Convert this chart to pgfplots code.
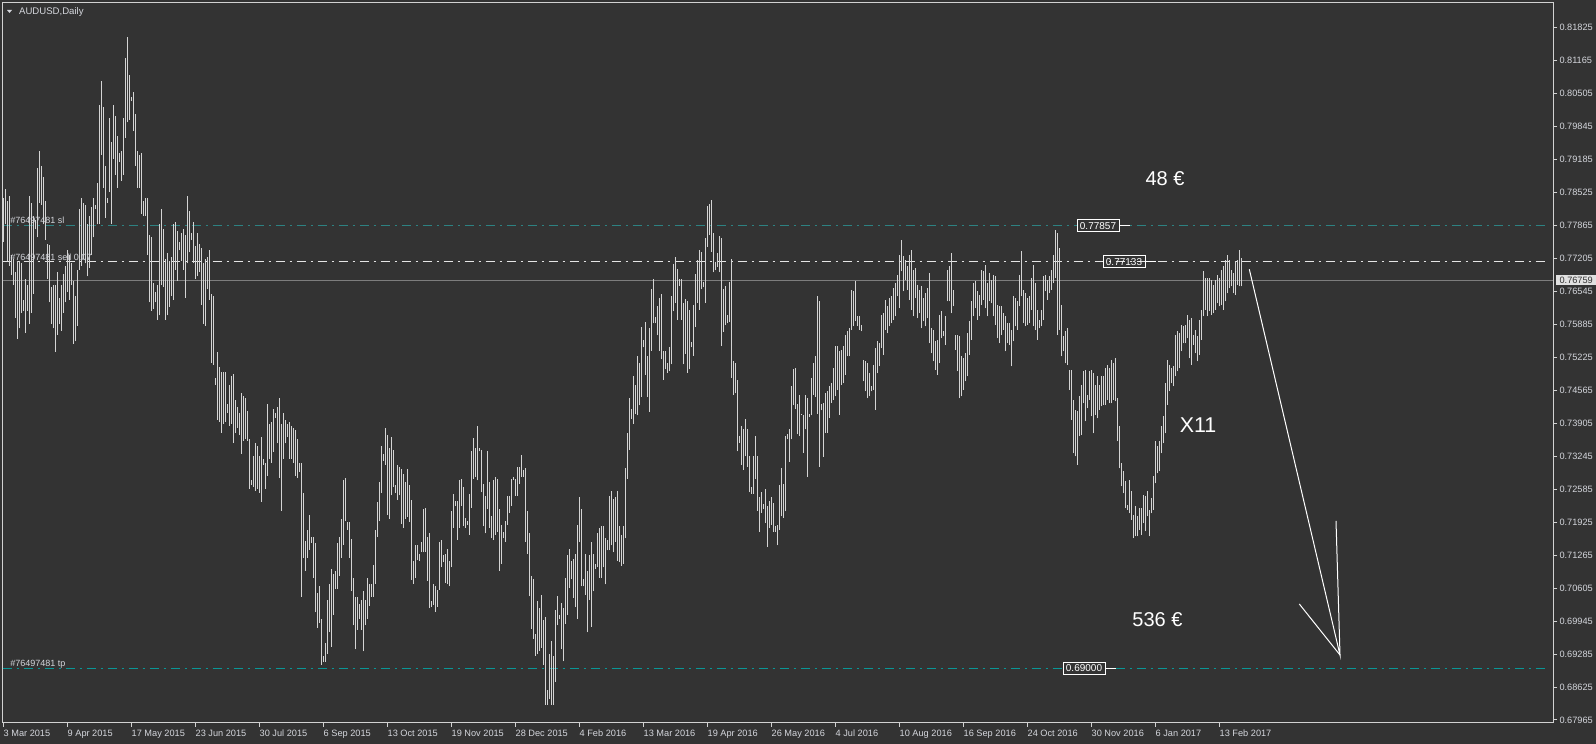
\documentclass[border=0pt]{standalone}
\usepackage{fontspec}
\setmainfont{Liberation Sans}
\usepackage{pgfplots}
\usepackage{pgfplotstable}
\pgfplotsset{compat=1.18}

\definecolor{bgc}{RGB}{51,51,51}
\definecolor{framec}{RGB}{210,210,210}
\definecolor{barc}{RGB}{212,212,212}
\definecolor{labc}{RGB}{212,214,220}
\definecolor{slc}{RGB}{45,130,130}
\definecolor{tpc}{RGB}{10,150,150}
\definecolor{bidc}{RGB}{125,125,125}

\newcommand\tkfont{\fontsize{4.6}{5}\selectfont}

% daily bars: x position (bar slot), high, low
\pgfplotstableread{
x h l
3 0.7841 0.7753
5 0.7859 0.7788
7 0.7835 0.7715
9 0.7845 0.7705
11 0.7727 0.7687
13 0.7719 0.7667
15 0.7693 0.7601
17 0.7715 0.7559
19 0.7715 0.7580
21 0.7711 0.7611
23 0.7637 0.7615
25 0.7679 0.7571
27 0.7667 0.7615
29 0.7845 0.7589
31 0.7831 0.7611
33 0.7805 0.7649
35 0.7797 0.7779
37 0.7901 0.7762
39 0.7935 0.7831
41 0.7905 0.7827
43 0.7883 0.7788
45 0.7835 0.7757
47 0.7749 0.7679
49 0.7747 0.7632
51 0.7663 0.7589
53 0.7667 0.7580
55 0.7667 0.7533
57 0.7693 0.7567
59 0.7641 0.7589
61 0.7667 0.7575
63 0.7689 0.7611
65 0.7705 0.7632
67 0.7736 0.7653
69 0.7727 0.7637
71 0.7710 0.7667
73 0.7675 0.7549
75 0.7645 0.7554
77 0.7697 0.7585
79 0.7819 0.7697
81 0.7840 0.7705
83 0.7831 0.7719
85 0.7827 0.7710
87 0.7788 0.7684
89 0.7805 0.7701
91 0.7823 0.7727
93 0.7840 0.7762
95 0.7827 0.7819
97 0.7871 0.7788
99 0.8027 0.7789
101 0.8075 0.7927
103 0.8023 0.7861
105 0.7905 0.7801
107 0.7841 0.7831
109 0.8001 0.7853
111 0.7953 0.7789
113 0.8027 0.7919
115 0.8005 0.7887
117 0.7965 0.7861
119 0.7931 0.7913
121 0.7935 0.7875
123 0.8001 0.7887
125 0.8122 0.7961
127 0.8163 0.7992
129 0.8087 0.7997
131 0.8044 0.8035
133 0.8053 0.7975
135 0.8009 0.7905
137 0.7935 0.7861
139 0.7927 0.7861
141 0.7931 0.7809
143 0.7835 0.7805
145 0.7840 0.7805
147 0.7840 0.7727
149 0.7767 0.7632
151 0.7762 0.7615
153 0.7671 0.7619
155 0.7653 0.7632
157 0.7667 0.7597
159 0.7788 0.7606
161 0.7819 0.7667
163 0.7779 0.7663
165 0.7719 0.7597
167 0.7731 0.7606
169 0.7715 0.7623
171 0.7723 0.7645
173 0.7788 0.7637
175 0.7793 0.7697
177 0.7775 0.7675
179 0.7753 0.7736
181 0.7771 0.7715
183 0.7779 0.7697
185 0.7767 0.7641
187 0.7845 0.7710
189 0.7814 0.7732
191 0.7771 0.7757
193 0.7793 0.7710
195 0.7745 0.7679
197 0.7771 0.7684
199 0.7749 0.7693
201 0.7741 0.7627
203 0.7710 0.7589
205 0.7719 0.7585
207 0.7723 0.7658
209 0.7736 0.7637
211 0.7649 0.7511
213 0.7645 0.7507
215 0.7481 0.7467
217 0.7533 0.7397
219 0.7502 0.7393
221 0.7493 0.7371
223 0.7493 0.7389
225 0.7493 0.7393
227 0.7429 0.7411
229 0.7467 0.7385
231 0.7485 0.7389
233 0.7489 0.7351
235 0.7437 0.7371
237 0.7423 0.7381
239 0.7411 0.7367
241 0.7450 0.7329
243 0.7445 0.7355
245 0.7441 0.7359
247 0.7415 0.7355
249 0.7359 0.7259
251 0.7277 0.7267
253 0.7324 0.7263
255 0.7350 0.7255
257 0.7345 0.7259
259 0.7324 0.7251
261 0.7363 0.7233
263 0.7319 0.7307
265 0.7311 0.7259
267 0.7429 0.7285
269 0.7389 0.7319
271 0.7393 0.7311
273 0.7419 0.7333
275 0.7411 0.7401
277 0.7423 0.7350
279 0.7441 0.7281
281 0.7389 0.7215
283 0.7411 0.7319
285 0.7397 0.7350
287 0.7389 0.7363
289 0.7393 0.7319
291 0.7385 0.7319
293 0.7381 0.7311
295 0.7377 0.7285
297 0.7359 0.7281
299 0.7311 0.7293
301 0.7311 0.7043
303 0.7251 0.7121
305 0.7155 0.7095
307 0.7177 0.7121
309 0.7207 0.7137
311 0.7163 0.7151
313 0.7163 0.7081
315 0.7151 0.7012
317 0.7051 0.6981
319 0.7064 0.6991
321 0.6999 0.6907
323 0.6925 0.6913
325 0.6951 0.6913
327 0.7037 0.6929
329 0.7069 0.6973
331 0.7099 0.6943
333 0.7089 0.7007
335 0.7095 0.7059
337 0.7151 0.7059
339 0.7163 0.7085
341 0.7199 0.7121
343 0.7277 0.7147
345 0.7281 0.7194
347 0.7193 0.7177
349 0.7193 0.7121
351 0.7159 0.7055
353 0.7081 0.6986
355 0.7043 0.6938
357 0.7043 0.6977
359 0.7029 0.6999
361 0.7037 0.6977
363 0.7055 0.6934
365 0.7037 0.6986
367 0.7081 0.6999
369 0.7069 0.7025
371 0.7069 0.7043
373 0.7107 0.7043
375 0.7177 0.7069
377 0.7233 0.7163
379 0.7272 0.7194
381 0.7345 0.7251
383 0.7329 0.7315
385 0.7381 0.7307
387 0.7367 0.7207
389 0.7341 0.7199
391 0.7363 0.7246
393 0.7337 0.7263
395 0.7267 0.7251
397 0.7307 0.7237
399 0.7303 0.7246
401 0.7298 0.7189
403 0.7289 0.7181
405 0.7272 0.7199
407 0.7298 0.7203
409 0.7267 0.7193
411 0.7237 0.7077
413 0.7115 0.7069
415 0.7147 0.7081
417 0.7147 0.7117
419 0.7129 0.7115
421 0.7153 0.7133
423 0.7218 0.7132
425 0.7221 0.7133
427 0.7163 0.7075
429 0.7170 0.7020
431 0.7034 0.7023
433 0.7068 0.7027
435 0.7064 0.7013
437 0.7057 0.7023
439 0.7153 0.7057
441 0.7157 0.7102
443 0.7126 0.7112
445 0.7129 0.7071
447 0.7139 0.7068
449 0.7115 0.7064
451 0.7215 0.7102
453 0.7249 0.7181
455 0.7235 0.7225
457 0.7235 0.7157
459 0.7276 0.7181
461 0.7279 0.7225
463 0.7263 0.7184
465 0.7201 0.7181
467 0.7194 0.7187
469 0.7249 0.7167
471 0.7334 0.7221
473 0.7361 0.7279
475 0.7341 0.7283
477 0.7385 0.7276
479 0.7341 0.7334
481 0.7337 0.7252
483 0.7269 0.7184
485 0.7245 0.7170
487 0.7334 0.7218
489 0.7273 0.7181
491 0.7205 0.7160
493 0.7276 0.7157
495 0.7283 0.7167
497 0.7279 0.7173
499 0.7218 0.7095
501 0.7187 0.7109
503 0.7173 0.7160
505 0.7194 0.7153
507 0.7245 0.7187
509 0.7245 0.7211
511 0.7279 0.7225
513 0.7283 0.7276
515 0.7279 0.7245
517 0.7303 0.7245
519 0.7303 0.7269
521 0.7327 0.7283
523 0.7297 0.7283
525 0.7300 0.7153
527 0.7215 0.7129
529 0.7170 0.7044
531 0.7085 0.6979
533 0.7078 0.6959
535 0.6969 0.6925
537 0.7034 0.6928
539 0.7020 0.6935
541 0.7047 0.6941
543 0.6996 0.6907
545 0.7003 0.6827
547 0.6856 0.6827
549 0.6928 0.6839
551 0.6955 0.6827
553 0.6925 0.6827
555 0.7017 0.6873
557 0.7044 0.6986
559 0.7007 0.6999
561 0.7030 0.6938
563 0.7020 0.6914
565 0.7081 0.6989
567 0.7126 0.7007
569 0.7139 0.7061
571 0.7115 0.7078
573 0.7119 0.7041
575 0.7129 0.7023
577 0.7187 0.6999
579 0.7242 0.7153
581 0.7218 0.7064
583 0.7078 0.7064
585 0.7129 0.7047
587 0.7095 0.6972
589 0.7126 0.7037
591 0.7153 0.6983
593 0.7129 0.7054
595 0.7109 0.7099
597 0.7170 0.7102
599 0.7181 0.7081
601 0.7184 0.7081
603 0.7184 0.7102
605 0.7160 0.7068
607 0.7157 0.7136
609 0.7245 0.7136
611 0.7255 0.7146
613 0.7238 0.7132
615 0.7242 0.7153
617 0.7255 0.7115
619 0.7184 0.7112
621 0.7167 0.7105
623 0.7184 0.7109
625 0.7300 0.7160
627 0.7371 0.7279
629 0.7440 0.7337
631 0.7419 0.7399
633 0.7484 0.7389
635 0.7467 0.7409
637 0.7525 0.7406
639 0.7511 0.7426
641 0.7583 0.7443
643 0.7556 0.7542
645 0.7593 0.7487
647 0.7525 0.7443
649 0.7580 0.7413
651 0.7658 0.7535
653 0.7679 0.7590
655 0.7603 0.7590
657 0.7624 0.7566
659 0.7641 0.7535
661 0.7648 0.7518
663 0.7535 0.7477
665 0.7535 0.7498
667 0.7511 0.7491
669 0.7542 0.7494
671 0.7644 0.7508
673 0.7709 0.7614
675 0.7723 0.7631
677 0.7699 0.7597
679 0.7679 0.7665
681 0.7679 0.7597
683 0.7631 0.7508
685 0.7638 0.7529
687 0.7634 0.7491
689 0.7617 0.7498
691 0.7553 0.7542
693 0.7627 0.7525
695 0.7689 0.7583
697 0.7716 0.7631
699 0.7737 0.7617
701 0.7733 0.7658
703 0.7672 0.7662
705 0.7761 0.7631
707 0.7825 0.7743
709 0.7829 0.7767
711 0.7836 0.7733
713 0.7771 0.7692
715 0.7713 0.7696
717 0.7730 0.7703
719 0.7764 0.7692
721 0.7761 0.7545
723 0.7658 0.7573
725 0.7665 0.7586
727 0.7607 0.7590
729 0.7672 0.7593
731 0.7718 0.7481
733 0.7515 0.7447
735 0.7511 0.7450
737 0.7477 0.7334
739 0.7365 0.7351
741 0.7385 0.7307
743 0.7378 0.7297
745 0.7399 0.7324
747 0.7378 0.7303
749 0.7324 0.7252
751 0.7262 0.7249
753 0.7324 0.7249
755 0.7365 0.7279
757 0.7324 0.7215
759 0.7242 0.7173
761 0.7252 0.7211
763 0.7228 0.7218
765 0.7259 0.7191
767 0.7225 0.7143
769 0.7235 0.7181
771 0.7242 0.7187
773 0.7231 0.7173
775 0.7184 0.7173
777 0.7187 0.7146
779 0.7266 0.7177
781 0.7300 0.7204
783 0.7269 0.7201
785 0.7365 0.7214
787 0.7368 0.7358
789 0.7378 0.7313
791 0.7464 0.7358
793 0.7498 0.7426
795 0.7501 0.7419
797 0.7429 0.7368
799 0.7447 0.7365
801 0.7409 0.7406
803 0.7406 0.7331
805 0.7447 0.7378
807 0.7440 0.7283
809 0.7409 0.7402
811 0.7481 0.7406
813 0.7511 0.7447
815 0.7525 0.7443
817 0.7644 0.7409
819 0.7634 0.7303
821 0.7429 0.7416
823 0.7431 0.7323
825 0.7451 0.7371
827 0.7454 0.7371
829 0.7464 0.7401
831 0.7470 0.7431
833 0.7501 0.7437
835 0.7544 0.7444
837 0.7544 0.7457
839 0.7534 0.7407
841 0.7537 0.7467
843 0.7544 0.7470
845 0.7567 0.7487
847 0.7574 0.7524
849 0.7581 0.7524
851 0.7657 0.7577
853 0.7654 0.7584
855 0.7674 0.7594
857 0.7604 0.7584
859 0.7604 0.7577
861 0.7587 0.7574
863 0.7517 0.7474
865 0.7514 0.7454
867 0.7510 0.7440
869 0.7490 0.7444
871 0.7464 0.7454
873 0.7507 0.7457
875 0.7540 0.7417
877 0.7554 0.7490
879 0.7550 0.7504
881 0.7607 0.7540
883 0.7610 0.7527
885 0.7637 0.7577
887 0.7624 0.7570
889 0.7640 0.7584
891 0.7644 0.7590
893 0.7660 0.7597
895 0.7670 0.7604
897 0.7687 0.7644
899 0.7727 0.7620
901 0.7757 0.7694
903 0.7724 0.7654
905 0.7717 0.7677
907 0.7704 0.7657
909 0.7727 0.7637
911 0.7737 0.7617
913 0.7697 0.7604
915 0.7700 0.7640
917 0.7667 0.7600
919 0.7657 0.7610
921 0.7664 0.7580
923 0.7640 0.7594
925 0.7650 0.7584
927 0.7660 0.7600
929 0.7690 0.7550
931 0.7580 0.7530
933 0.7577 0.7514
935 0.7554 0.7497
937 0.7557 0.7487
939 0.7607 0.7510
941 0.7614 0.7560
943 0.7574 0.7564
945 0.7604 0.7547
947 0.7697 0.7634
949 0.7704 0.7634
951 0.7730 0.7610
953 0.7657 0.7624
955 0.7567 0.7537
957 0.7567 0.7494
959 0.7564 0.7440
961 0.7524 0.7444
963 0.7520 0.7457
965 0.7530 0.7474
967 0.7570 0.7484
969 0.7594 0.7527
971 0.7634 0.7557
973 0.7670 0.7604
975 0.7674 0.7620
977 0.7654 0.7597
979 0.7647 0.7604
981 0.7697 0.7627
983 0.7694 0.7637
985 0.7707 0.7620
987 0.7670 0.7604
989 0.7690 0.7634
991 0.7677 0.7630
993 0.7687 0.7604
995 0.7684 0.7587
997 0.7627 0.7560
999 0.7624 0.7550
1001 0.7624 0.7567
1003 0.7610 0.7577
1005 0.7604 0.7534
1007 0.7590 0.7550
1009 0.7590 0.7547
1011 0.7577 0.7504
1013 0.7644 0.7554
1015 0.7640 0.7584
1017 0.7634 0.7577
1019 0.7687 0.7624
1021 0.7734 0.7644
1023 0.7657 0.7590
1025 0.7650 0.7584
1027 0.7640 0.7587
1029 0.7644 0.7590
1031 0.7680 0.7617
1033 0.7707 0.7584
1035 0.7670 0.7577
1037 0.7617 0.7557
1039 0.7597 0.7580
1041 0.7617 0.7584
1043 0.7684 0.7597
1045 0.7687 0.7654
1047 0.7677 0.7637
1049 0.7684 0.7650
1051 0.7697 0.7657
1053 0.7727 0.7670
1055 0.7777 0.7680
1057 0.7770 0.7567
1059 0.7740 0.7577
1061 0.7627 0.7524
1063 0.7564 0.7534
1065 0.7574 0.7510
1067 0.7580 0.7507
1069 0.7497 0.7457
1071 0.7497 0.7397
1073 0.7437 0.7330
1075 0.7417 0.7324
1077 0.7414 0.7307
1079 0.7444 0.7364
1081 0.7467 0.7367
1083 0.7494 0.7430
1085 0.7497 0.7394
1087 0.7447 0.7420
1089 0.7494 0.7437
1091 0.7497 0.7404
1093 0.7490 0.7370
1095 0.7467 0.7407
1097 0.7484 0.7400
1099 0.7467 0.7417
1101 0.7484 0.7424
1103 0.7484 0.7427
1105 0.7500 0.7427
1107 0.7507 0.7437
1109 0.7500 0.7430
1111 0.7517 0.7430
1113 0.7510 0.7437
1115 0.7520 0.7434
1117 0.7440 0.7354
1119 0.7384 0.7300
1121 0.7310 0.7264
1123 0.7294 0.7250
1125 0.7274 0.7220
1127 0.7227 0.7217
1129 0.7277 0.7210
1131 0.7254 0.7197
1133 0.7207 0.7160
1135 0.7224 0.7164
1137 0.7204 0.7164
1139 0.7220 0.7177
1141 0.7220 0.7167
1143 0.7247 0.7190
1145 0.7244 0.7174
1147 0.7254 0.7204
1149 0.7217 0.7164
1151 0.7240 0.7210
1153 0.7284 0.7217
1155 0.7354 0.7270
1157 0.7344 0.7290
1159 0.7354 0.7294
1161 0.7384 0.7330
1163 0.7404 0.7350
1165 0.7470 0.7370
1167 0.7517 0.7427
1169 0.7507 0.7454
1171 0.7500 0.7470
1173 0.7504 0.7464
1175 0.7567 0.7484
1177 0.7574 0.7494
1179 0.7570 0.7500
1181 0.7587 0.7534
1183 0.7584 0.7550
1185 0.7587 0.7550
1187 0.7607 0.7560
1189 0.7597 0.7520
1191 0.7600 0.7507
1193 0.7567 0.7547
1195 0.7577 0.7530
1197 0.7564 0.7514
1199 0.7597 0.7527
1201 0.7617 0.7557
1203 0.7694 0.7604
1205 0.7680 0.7617
1207 0.7680 0.7604
1209 0.7680 0.7614
1211 0.7677 0.7607
1213 0.7667 0.7610
1215 0.7677 0.7617
1217 0.7687 0.7630
1219 0.7680 0.7624
1221 0.7697 0.7627
1223 0.7704 0.7617
1225 0.7717 0.7634
1227 0.7727 0.7650
1229 0.7717 0.7660
1231 0.7697 0.7664
1233 0.7690 0.7650
1235 0.7714 0.7647
1237 0.7717 0.7667
1239 0.7737 0.7664
1241 0.7720 0.7664
}\bars

\begin{document}
\begin{tikzpicture}
\fill[bgc] (-1.25pt,-10.65pt) rectangle (796.75pt,361.35pt);
\begin{axis}[
  at={(0,0)}, anchor=south west,
  scale only axis, width=775.4pt, height=360.1pt,
  xmin=2.5, xmax=1553.3,
  ymin=0.67911, ymax=0.82321,
  clip=false,
  axis line style={draw=framec, line width=0.5pt},
  tick align=outside,
  major tick length=2pt,
  tick style={draw=framec, line width=0.5pt},
  xtick pos=left, ytick pos=right, yticklabel pos=right,
  xtick={3.3,67.3,131.3,195.3,259.3,323.3,387.3,451.3,515.3,579.3,643.3,707.3,771.3,835.3,899.3,963.3,1027.3,1091.3,1155.3,1219.3},
  xticklabels={3 Mar 2015,9 Apr 2015,17 May 2015,23 Jun 2015,30 Jul 2015,6 Sep 2015,13 Oct 2015,19 Nov 2015,28 Dec 2015,4 Feb 2016,13 Mar 2016,19 Apr 2016,26 May 2016,4 Jul 2016,10 Aug 2016,16 Sep 2016,24 Oct 2016,30 Nov 2016,6 Jan 2017,13 Feb 2017},
  ytick={0.67965,0.68625,0.69285,0.69945,0.70605,0.71265,0.71925,0.72585,0.73245,0.73905,0.74565,0.75225,0.75885,0.76545,0.77205,0.77865,0.78525,0.79185,0.79845,0.80505,0.81165,0.81825},
  yticklabels={0.67965,0.68625,0.69285,0.69945,0.70605,0.71265,0.71925,0.72585,0.73245,0.73905,0.74565,0.75225,0.75885,0.76545,0.77205,0.77865,0.78525,0.79185,0.79845,0.80505,0.81165,0.81825},
  xticklabel style={font=\tkfont, text=labc, anchor=north west, inner sep=0pt, yshift=-1.4pt},
  yticklabel style={font=\tkfont, text=labc, anchor=west, inner sep=0pt, xshift=0.9pt},
]
% order lines
\addplot[slc, line width=0.5pt, dash pattern=on 4.5pt off 2.5pt on 1pt off 2.5pt, forget plot] coordinates {(2.5,0.77857) (1549,0.77857)};
\addplot[white!90!black, line width=0.5pt, dash pattern=on 4.5pt off 2.5pt on 1pt off 2.5pt, forget plot] coordinates {(2.5,0.77133) (1549,0.77133)};
\addplot[tpc, line width=0.5pt, dash pattern=on 4.5pt off 2.5pt on 1pt off 2.5pt, forget plot] coordinates {(2.5,0.69000) (1549,0.69000)};
\addplot[bidc, line width=0.5pt, forget plot] coordinates {(2.5,0.76759) (1553.3,0.76759)};

% bars
\addplot[draw=none, mark=none, forget plot,
  error bars/.cd, y dir=plus, y explicit, error mark=none,
  error bar style={draw=barc, solid, line width=0.5pt}]
  table[x=x, y=l, y error expr=\thisrow{h}-\thisrow{l}] {\bars};

% drawn trend lines
\addplot[white, line width=0.5pt, forget plot] coordinates {(1249.3,0.76983) (1340,0.69265) (1336,0.71947)};
\addplot[white, line width=0.5pt, forget plot] coordinates {(1299.3,0.70286) (1340,0.69265)};

% price boxes on the order lines
\draw[white, line width=0.5pt] (axis cs:1119,0.77857) -- (axis cs:1130,0.77857);
\node[draw=white, fill=bgc, line width=0.5pt, inner sep=0pt, minimum width=21pt, minimum height=6pt, text=white, font=\fontsize{5}{6}\selectfont] at (axis cs:1098,0.77857) {0.77857};
\draw[white, line width=0.5pt] (axis cs:1145,0.77133) -- (axis cs:1156,0.77133);
\node[draw=white, line width=0.5pt, inner sep=0pt, minimum width=21pt, minimum height=6pt, text=white, font=\fontsize{5}{6}\selectfont] at (axis cs:1124,0.77133) {0.77133};
\draw[white, line width=0.5pt] (axis cs:1105,0.69000) -- (axis cs:1116,0.69000);
\node[draw=white, fill=bgc, line width=0.5pt, inner sep=0pt, minimum width=21pt, minimum height=6pt, text=white, font=\fontsize{5}{6}\selectfont] at (axis cs:1084,0.69000) {0.69000};

% order labels
\node[anchor=base west, inner sep=0pt, text=labc, font=\fontsize{4.5}{5}\selectfont] at (axis cs:10,0.77903) {\#76497481 sl};
\node[anchor=base west, inner sep=0pt, text=labc, font=\fontsize{4.5}{5}\selectfont] at (axis cs:10,0.77155) {\#76497481 sell 0.07};
\node[anchor=base west, inner sep=0pt, text=labc, font=\fontsize{4.5}{5}\selectfont] at (axis cs:10,0.69045) {\#76497481 tp};

% bid label on the price scale
\node[fill=white!88!black, inner sep=0pt, minimum width=20.5pt, minimum height=5pt, anchor=west, text=bgc, font=\tkfont] at (axis cs:1555.3,0.76759) {0.76759};

% title
\fill[labc] (axis cs:7,0.82171) -- (axis cs:12,0.82171) -- (axis cs:9.5,0.82111) -- cycle;
\node[anchor=base west, inner sep=0pt, text=labc, font=\fontsize{4.8}{5}\selectfont] at (axis cs:18.7,0.82077) {AUDUSD,Daily};

% text objects
\node[text=white, inner sep=0pt, font=\fontsize{10}{12}\selectfont] at (axis cs:1165,0.78789) {48 €};
\node[text=white, inner sep=0pt, font=\fontsize{10.7}{12}\selectfont] at (axis cs:1198,0.73867) {X11};
\node[text=white, inner sep=0pt, font=\fontsize{10}{12}\selectfont] at (axis cs:1157.5,0.69966) {536 €};
\end{axis}
\pgfresetboundingbox
\useasboundingbox (-1.25pt,-10.65pt) rectangle (796.75pt,361.35pt);
\end{tikzpicture}
\end{document}
